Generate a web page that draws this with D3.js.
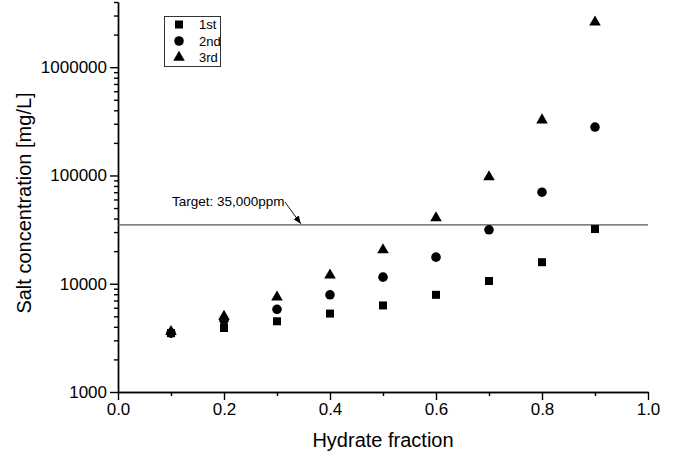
<!DOCTYPE html>
<html>
<head>
<meta charset="utf-8">
<script src="https://cdn.jsdelivr.net/npm/d3@7/dist/d3.min.js"></script>
<style>
  body { margin: 0; background: #fff; }
  svg { display: block; font-family: Arial, "Liberation Sans", sans-serif; }
</style>
</head>
<body>
<svg id="chart" width="676" height="459"></svg>
<script>
// ---- data ----
const hydrateFraction = [0.1, 0.2, 0.3, 0.4, 0.5, 0.6, 0.7, 0.8, 0.9];
const first  = [3500, 3900, 4500, 5300, 6300, 7900, 10600, 15800, 32000];
const second = [3500, 4600, 5800, 7900, 11500, 17600, 31500, 70000, 280000];
const third  = [3600, 5000, 7500, 12000, 20500, 40500, 97000, 325000, 2600000];
const seriesNames = ["1st", "2nd", "3rd"];
const xTicks = [0.0, 0.2, 0.4, 0.6, 0.8, 1.0];
const xMinorTicks = [0.1, 0.3, 0.5, 0.7, 0.9];
const yTicks = [1000, 10000, 100000, 1000000];
const targetValue = 35000;
const targetLabel = "Target: 35,000ppm";
const xTitle = "Hydrate fraction";
const yTitle = "Salt concentration [mg/L]";

const svg = d3.select("#chart");
const x = d3.scaleLinear().domain([0, 1]).range([118, 648]);
const y = d3.scaleLog().domain([1000, 4000000]).range([392, 2]);

// minor y ticks (2..9 per decade)
const yMinor = [];
for (let d = 1000; d < 4000000; d *= 10) {
  for (let m = 2; m <= 9; m++) { const v = d * m; if (v <= 4000000) yMinor.push(v); }
}

const axisStroke = 1.4;

// x axis
const gx = svg.append("g").attr("transform", `translate(0,${y(1000)})`);
gx.call(d3.axisBottom(x).tickValues(xTicks).tickSize(8).tickSizeOuter(0).tickPadding(3).tickFormat(d3.format(".1f")));
gx.append("g").call(d3.axisBottom(x).tickValues(xMinorTicks).tickSize(4).tickSizeOuter(0).tickFormat(""));
gx.selectAll(".domain").attr("stroke-width", axisStroke);
gx.selectAll(".tick line").attr("stroke-width", axisStroke);
gx.selectAll("text").attr("font-size", 17).attr("fill", "#000");

// y axis
const gy = svg.append("g").attr("transform", `translate(${x(0)},0)`);
gy.call(d3.axisLeft(y).tickValues(yTicks).tickSize(8).tickSizeOuter(0).tickPadding(3).tickFormat(d3.format("d")));
gy.append("g").call(d3.axisLeft(y).tickValues(yMinor).tickSize(4).tickSizeOuter(0).tickFormat(""));
gy.selectAll(".domain").attr("stroke-width", axisStroke);
gy.selectAll(".tick line").attr("stroke-width", axisStroke);
gy.selectAll("text").attr("font-size", 17).attr("fill", "#000");

// target line
svg.append("line")
  .attr("x1", x(0)).attr("x2", x(1))
  .attr("y1", y(targetValue)).attr("y2", y(targetValue))
  .attr("stroke", "#555").attr("stroke-width", 1.2);

// annotation
svg.append("defs").append("marker")
  .attr("id", "arr").attr("viewBox", "0 0 10 10").attr("refX", 10).attr("refY", 5)
  .attr("markerWidth", 8).attr("markerHeight", 8).attr("orient", "auto")
  .attr("markerUnits", "userSpaceOnUse")
  .append("path").attr("d", "M0,1 L10,5 L0,9 Z").attr("fill", "#000");
svg.append("text").attr("x", x(0.1) + 1).attr("y", 206)
  .attr("font-size", 13.5).text(targetLabel);
svg.append("line")
  .attr("x1", x(0.315)).attr("y1", 202)
  .attr("x2", x(0.345)).attr("y2", y(targetValue) - 1)
  .attr("stroke", "#000").attr("stroke-width", 0.9)
  .attr("marker-end", "url(#arr)");

// series
const symbols = [d3.symbolSquare, d3.symbolCircle, d3.symbolTriangle];
const sizes = [64, 72, 58];
const allSeries = [first, second, third];
allSeries.forEach((vals, i) => {
  svg.append("g").selectAll("path").data(vals).join("path")
    .attr("transform", (d, j) => `translate(${x(hydrateFraction[j])},${y(d)})`)
    .attr("d", d3.symbol().type(symbols[i]).size(sizes[i]))
    .attr("fill", "#000");
});

// legend
const lg = svg.append("g");
lg.append("rect").attr("x", 164.5).attr("y", 16.5).attr("width", 56).attr("height", 50)
  .attr("fill", "#fff").attr("stroke", "#333").attr("stroke-width", 1);
seriesNames.forEach((n, i) => {
  const yy = 24.5 + i * 16.5;
  lg.append("path").attr("transform", `translate(179,${yy})`)
    .attr("d", d3.symbol().type(symbols[i]).size(sizes[i])).attr("fill", "#000");
  lg.append("text").attr("x", 199).attr("y", yy + 4.5).attr("font-size", 13).text(n);
});

// axis titles
svg.append("text").attr("x", x(0.5)).attr("y", 447).attr("text-anchor", "middle")
  .attr("font-size", 20).text(xTitle);
svg.append("text").attr("transform", `translate(31,${(y(1000) + y(4000000)) / 2 + 6}) rotate(-90)`)
  .attr("text-anchor", "middle").attr("font-size", 20).text(yTitle);
</script>
</body>
</html>
